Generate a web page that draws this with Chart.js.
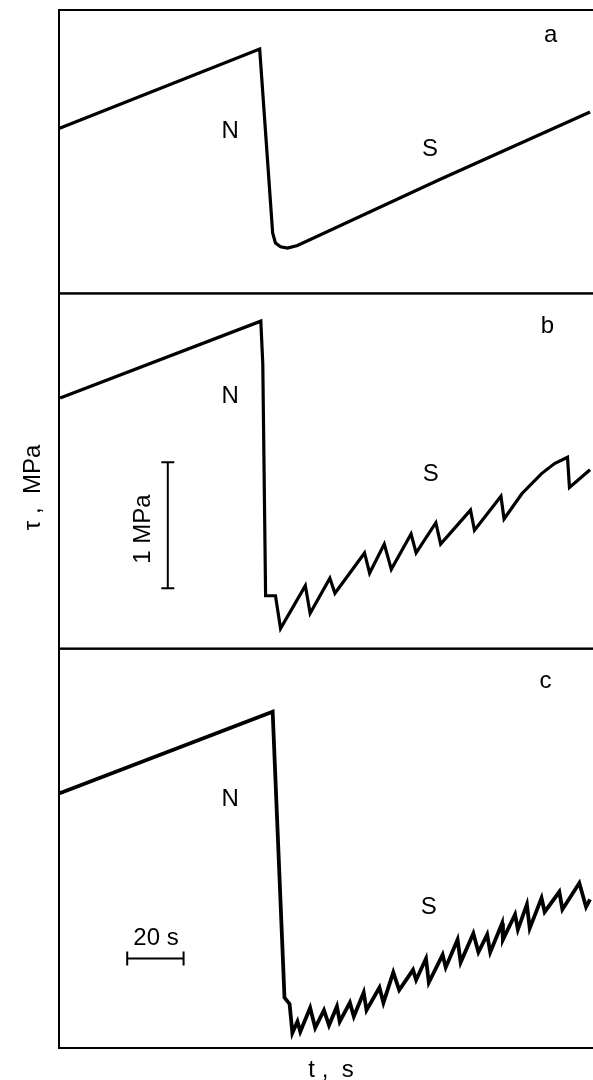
<!DOCTYPE html>
<html>
<head>
<meta charset="utf-8">
<title>τ(t)</title>
<script src="https://cdn.jsdelivr.net/npm/chart.js@4.4.0/dist/chart.umd.min.js"></script>
<style>
  html, body { margin: 0; padding: 0; background: #fff; overflow: hidden; }
  #wrap { position: relative; width: 612px; height: 1090px; }
</style>
</head>
<body>
<div id="wrap"><canvas id="chart" width="612" height="1090"></canvas></div>
<script>
// time, s
const tA = [0, 71.2, 75.8, 76.8, 78.6, 81.1, 84.6, 134.7, 188.4];
// shear stress, MPa (panel a: smooth sliding)
const tauA = [1.31, 1.94, 0.48, 0.40, 0.37, 0.36, 0.38, 0.90, 1.44];

const tB = [0.4, 71.6, 72.3, 73.3, 76.8, 78.6, 87.4, 89.1, 96.1, 97.9, 108.4, 110.2, 115.4,
            117.9, 124.9, 126.7, 133.7, 135.4, 146.0, 147.4, 156.8, 157.9, 164.2, 171.2, 175.8,
            180.4, 181.1, 188.4];
const tauB = [1.99, 2.60, 2.26, 0.42, 0.42, 0.16, 0.50, 0.28, 0.56, 0.44, 0.76, 0.60, 0.83,
              0.63, 0.91, 0.76, 1.00, 0.83, 1.10, 0.94, 1.21, 1.03, 1.23, 1.39, 1.47,
              1.52, 1.28, 1.42];

const tC = [0, 75.8, 80.0, 81.8, 82.8, 84.6, 85.6, 89.1, 90.9, 94.0, 95.8, 98.6, 99.6, 103.2,
            104.6, 108.1, 109.1, 113.7, 115.1, 118.6, 120.7, 125.6, 126.7, 130.2, 131.2, 136.1,
            137.2, 141.4, 142.5, 147.0, 148.8, 151.9, 153.0, 157.2, 157.5, 161.8, 162.8, 166.0,
            167.0, 171.2, 172.3, 177.5, 178.6, 184.6, 187.0, 188.4];
const tauC = [2.02, 2.67, 0.40, 0.35, 0.12, 0.21, 0.13, 0.32, 0.16, 0.30, 0.18, 0.33, 0.21, 0.36,
              0.25, 0.44, 0.30, 0.48, 0.36, 0.60, 0.46, 0.62, 0.54, 0.71, 0.52, 0.74,
              0.64, 0.86, 0.68, 0.91, 0.76, 0.90, 0.76, 0.99, 0.86, 1.06, 0.94, 1.14,
              0.95, 1.19, 1.08, 1.24, 1.10, 1.31, 1.12, 1.18];

// scale bars: 1 MPa (panel b) and 20 s (panel c)
const barMPaT = [38.6, 38.6];
const barMPaTau = [0.48, 1.48];
const barSecT = [24.2, 44.2];
const barSecTau = [0.71, 0.71];

// visible stress range of each panel, MPa
const rangeA = 2.25, rangeB = 2.82, rangeC = 3.17;

const FONT = '"Liberation Sans", Arial, Helvetica, sans-serif';

const notes = [
  { text: 'a', x: 174.4, y: 2.05, axis: 'yA' },
  { text: 'N', x: 60.7, y: 1.29, axis: 'yA' },
  { text: 'S', x: 131.6, y: 1.14, axis: 'yA' },
  { text: 'b', x: 173.3, y: 2.56, axis: 'yB' },
  { text: 'N', x: 60.7, y: 2.00, axis: 'yB' },
  { text: 'S', x: 131.9, y: 1.38, axis: 'yB' },
  { text: '1 MPa', x: 29.8, y: 0.95, axis: 'yB', rot: -Math.PI / 2 },
  { text: 'τ ,  MPa', x: -9.1, y: 1.28, axis: 'yB', rot: -Math.PI / 2 },
  { text: 'c', x: 172.6, y: 2.91, axis: 'yC' },
  { text: 'N', x: 60.7, y: 1.97, axis: 'yC' },
  { text: 'S', x: 131.2, y: 1.12, axis: 'yC' },
  { text: '20 s', x: 34.4, y: 0.87, axis: 'yC' }
];

const toPoints = (ts, vs) => ts.map((t, i) => ({ x: t, y: vs[i] }));

// box around each stacked panel
const framePlugin = {
  id: 'frames',
  afterDatasetsDraw(chart) {
    const { ctx, chartArea } = chart;
    ctx.save();
    ctx.strokeStyle = '#000';
    ctx.lineWidth = 2;
    ['yA', 'yB', 'yC'].forEach(id => {
      const s = chart.scales[id];
      ctx.strokeRect(chartArea.left, s.top, chartArea.right - chartArea.left, s.bottom - s.top);
    });
    ctx.restore();
  }
};

// panel letters, N / S marks and scale bar labels
const notePlugin = {
  id: 'notes',
  afterDraw(chart) {
    const { ctx, scales } = chart;
    ctx.save();
    ctx.fillStyle = '#000';
    ctx.font = '24px ' + FONT;
    ctx.textAlign = 'center';
    ctx.textBaseline = 'middle';
    notes.forEach(n => {
      const px = scales.x.getPixelForValue(n.x);
      const py = scales[n.axis].getPixelForValue(n.y);
      ctx.save();
      ctx.translate(px, py);
      if (n.rot) ctx.rotate(n.rot);
      ctx.fillText(n.text, 0, 0);
      ctx.restore();
    });
    ctx.restore();
  }
};

const hiddenY = (range) => ({
  type: 'linear', position: 'left', stack: 'panels', stackWeight: range,
  min: 0, max: range, display: false
});

new Chart(document.getElementById('chart'), {
  type: 'line',
  data: {
    datasets: [
      { data: toPoints(tA, tauA), yAxisID: 'yA' },
      { data: toPoints(tB, tauB), yAxisID: 'yB' },
      { data: toPoints(tC, tauC), yAxisID: 'yC', borderWidth: 3.8 },
      {
        data: toPoints(barMPaT, barMPaTau), yAxisID: 'yB', borderWidth: 2,
        pointStyle: 'line', pointRadius: 6.5, pointBorderWidth: 2, pointBorderColor: '#000'
      },
      {
        data: toPoints(barSecT, barSecTau), yAxisID: 'yC', borderWidth: 2,
        pointStyle: 'line', pointRotation: 90, pointRadius: 7, pointBorderWidth: 2, pointBorderColor: '#000'
      }
    ]
  },
  options: {
    responsive: false,
    animation: false,
    layout: { padding: { left: 59, right: 3, top: 10, bottom: 5.6 } },
    plugins: { legend: { display: false }, tooltip: { enabled: false } },
    elements: {
      point: { radius: 0 },
      line: { borderColor: '#000', borderWidth: 3.2, tension: 0, fill: false }
    },
    scales: {
      x: {
        type: 'linear', min: 0, max: 193,
        grid: { display: false, drawTicks: false },
        border: { display: false },
        ticks: { display: false },
        title: {
          display: true, text: 't ,  s', color: '#000',
          font: { family: FONT, size: 24, lineHeight: 1.2 },
          padding: { top: 7.6, bottom: 0 }
        }
      },
      yC: hiddenY(rangeC),
      yB: hiddenY(rangeB),
      yA: hiddenY(rangeA)
    }
  },
  plugins: [framePlugin, notePlugin]
});
</script>
</body>
</html>
